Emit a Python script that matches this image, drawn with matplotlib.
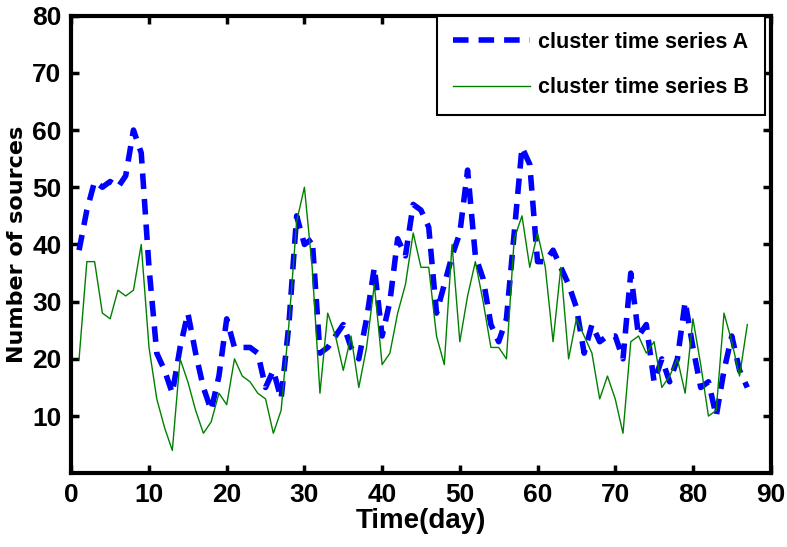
import matplotlib
matplotlib.use("Agg")
import matplotlib.pyplot as plt
from matplotlib import font_manager

days = list(range(1, 88))
series_a = [39, 46, 51, 50, 51, 50, 52, 60, 56, 36,
            21, 18, 14, 22, 28, 21, 15, 11, 17, 27,
            22, 22, 22, 21, 15, 18, 13, 26, 45, 40,
            41, 21, 22, 24, 26, 22, 20, 27, 36, 24,
            30, 41, 38, 47, 46, 43, 28, 33, 38, 42,
            53, 38, 34, 26, 23, 27, 42, 57, 54, 37,
            37, 39, 36, 33, 29, 21, 26, 23, 24, 24,
            20, 35, 24, 26, 16, 20, 16, 20, 30, 22,
            15, 16, 10, 18, 24, 18, 15]
series_b = [20, 37, 37, 28, 27, 32, 31, 32, 40, 22,
            13, 8, 4, 20, 16, 11, 7, 9, 14, 12,
            20, 17, 16, 14, 13, 7, 11, 26, 44, 50,
            36, 14, 28, 24, 18, 24, 15, 22, 33, 19,
            21, 28, 33, 42, 36, 36, 24, 19, 40, 23,
            31, 37, 30, 22, 22, 20, 41, 45, 36, 42,
            36, 23, 36, 20, 27, 24, 21, 13, 17, 13,
            7, 23, 24, 21, 23, 15, 17, 20, 14, 27,
            19, 10, 11, 28, 23, 17, 26]
label_a = "cluster time series A"
label_b = "cluster time series B"
xticks = [0, 10, 20, 30, 40, 50, 60, 70, 80, 90]
yticks = [10, 20, 30, 40, 50, 60, 70, 80]

names = {f.name for f in font_manager.fontManager.ttflist}
fam = "Liberation Sans Narrow" if "Liberation Sans Narrow" in names else "Liberation Sans"
plt.rcParams['font.family'] = [fam, 'DejaVu Sans']
plt.rcParams['font.weight'] = 'bold'

fig = plt.figure(figsize=(7.87, 5.47), dpi=100)
ax = fig.add_axes([0.0906, 0.1347, 0.8886, 0.8368])

ax.plot(days, series_a, color=(0, 0, 1), linewidth=4, linestyle=(0, (2.8, 1.8)),
        label=label_a)
ax.plot(days, series_b, color=(0, 0.5, 0), linewidth=1, label=label_b)

ax.set_xlim(0, 90)
ax.set_ylim(0, 80)
ax.set_xticks(xticks)
ax.set_yticks(yticks)
ax.tick_params(direction='in', length=6, width=2.5, top=True, right=True,
               labelsize=19, pad=7)
for lab in ax.get_xticklabels() + ax.get_yticklabels():
    lab.set_fontweight('bold')
for s in ax.spines.values():
    s.set_linewidth(3)

ax.set_xlabel("Time(day)", fontsize=20, fontweight='bold', labelpad=1)
ax.set_ylabel("Number of sources", fontsize=16, fontweight='bold',
              family=['DejaVu Sans'], labelpad=4)

leg = ax.legend(loc='upper right', fontsize=15.5, handlelength=3.6,
                handletextpad=0.35, framealpha=1.0,
                borderaxespad=0.0, frameon=True, fancybox=False,
                edgecolor='black', borderpad=0.75, labelspacing=1.15,
                bbox_to_anchor=(0.992, 1.0))
leg.get_frame().set_linewidth(1.5)
leg.set_zorder(10)
for t in leg.get_texts():
    t.set_fontweight('bold')

fig.savefig("out.png", dpi=100)
